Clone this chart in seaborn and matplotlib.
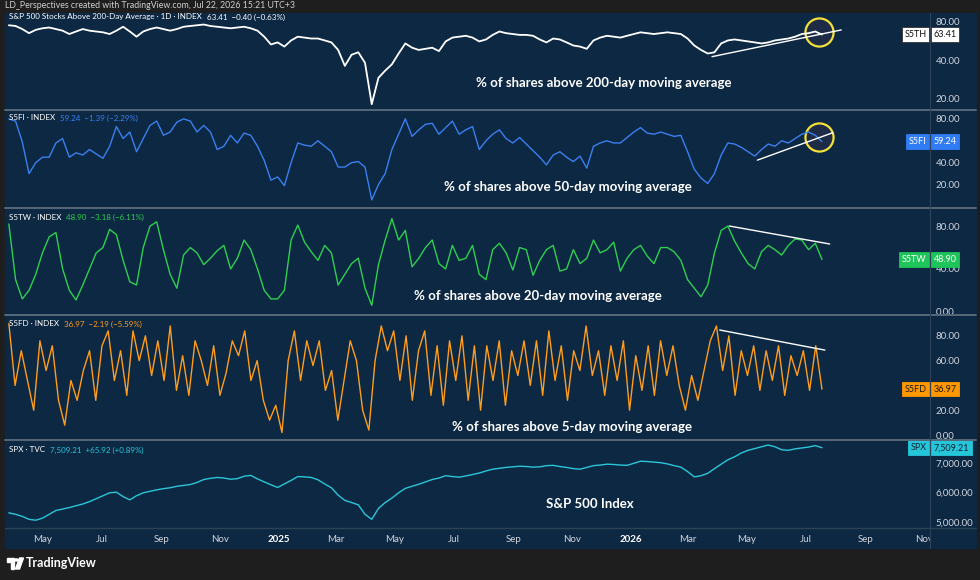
import numpy as np
import pandas as pd
import matplotlib
matplotlib.use('Agg')
import matplotlib.pyplot as plt
import matplotlib.ticker as mticker
import matplotlib.transforms as mtrans
from matplotlib.patches import Rectangle, Polygon, Circle
from matplotlib.lines import Line2D
import seaborn as sns

# ---- data (weekly-ish samples) ----
start, end = '2024-03-27', '2026-07-18'

s5th = [75, 74, 70, 65, 69, 71, 72, 70, 68, 64,
        67, 70, 68, 67, 66, 64, 68, 73, 67, 61,
        67, 70, 72, 70, 68, 70, 73, 74, 75, 76,
        74, 73, 72, 71, 72, 73, 71, 68, 61, 53,
        55, 51, 57, 61, 60, 59, 59, 57, 55, 48,
        36, 44, 46, 38, 18, 29, 33, 37, 45, 54,
        50, 48, 49, 50, 47, 56, 60, 61, 62, 60,
        56, 58, 63, 67, 65, 64, 63, 63, 62, 58,
        55, 59, 58, 55, 52, 51, 49, 57, 60, 62,
        61, 60, 62, 64, 66, 65, 64, 65, 66, 65,
        64, 59, 52, 48, 45, 46, 54, 57, 58, 57,
        56, 55, 54, 55, 57, 58, 59, 61, 64, 65,
        67, 63.41]

s5fi = [80, 78, 59, 30, 40, 45, 45, 58, 62, 45,
        49, 47, 52, 48, 44, 55, 73, 62, 68, 50,
        62, 74, 78, 65, 68, 77, 80, 78, 68, 74,
        68, 52, 55, 65, 58, 67, 65, 55, 42, 24,
        27, 19, 40, 58, 56, 55, 60, 55, 50, 36,
        36, 40, 41, 36, 6, 20, 30, 52, 66, 80,
        64, 70, 75, 76, 66, 72, 78, 66, 70, 73,
        52, 60, 66, 70, 62, 58, 63, 57, 51, 45,
        38, 47, 50, 45, 41, 46, 35, 55, 58, 60,
        58, 58, 63, 68, 72, 67, 66, 68, 66, 64,
        65, 50, 34, 26, 21, 30, 47, 58, 57, 54,
        50, 46, 52, 57, 55, 60, 58, 62, 66, 68,
        65, 59.24]

s5tw = [82, 30, 12, 20, 35, 55, 70, 74, 40, 20,
        11, 25, 40, 55, 60, 77, 72, 48, 28, 25,
        60, 80, 84, 58, 35, 22, 53, 60, 55, 44,
        50, 57, 62, 40, 50, 67, 58, 40, 20, 12,
        12, 20, 67, 81, 65, 56, 48, 62, 55, 25,
        35, 45, 50, 22, 6, 44, 67, 87, 67, 76,
        42, 50, 60, 67, 45, 40, 62, 48, 50, 62,
        35, 30, 58, 64, 55, 39, 60, 58, 34, 48,
        58, 62, 38, 40, 58, 45, 50, 67, 55, 58,
        65, 38, 50, 58, 62, 52, 45, 60, 60, 56,
        48, 30, 22, 14, 25, 55, 76, 80, 66, 55,
        45, 40, 56, 62, 58, 53, 62, 68, 67, 58,
        64, 48.90]

s5fd = [90, 40, 68, 44, 20, 76, 52, 72, 28, 8,
        44, 28, 52, 68, 28, 72, 84, 44, 68, 32,
        84, 60, 80, 48, 76, 44, 88, 36, 64, 32,
        76, 60, 40, 72, 32, 50, 76, 64, 84, 44,
        60, 28, 12, 24, 2, 60, 84, 44, 76, 56,
        76, 36, 52, 12, 44, 76, 60, 20, 4, 60,
        88, 68, 84, 44, 80, 28, 68, 84, 32, 72,
        24, 76, 44, 80, 28, 72, 20, 72, 44, 76,
        24, 68, 48, 76, 40, 76, 32, 84, 44, 72,
        28, 68, 52, 88, 48, 68, 32, 72, 44, 76,
        20, 64, 36, 72, 32, 76, 48, 72, 40, 20,
        48, 28, 52, 76, 88, 52, 80, 32, 68, 48,
        72, 36, 68, 44, 72, 32, 64, 48, 68, 36,
        72, 36.97]

spx = [5300, 5250, 5180, 5080, 5050, 5120, 5250, 5380, 5430, 5480,
       5540, 5600, 5680, 5780, 5880, 5980, 6000, 5850, 5740, 5880,
       5980, 6030, 6080, 6120, 6150, 6200, 6230, 6260, 6330, 6430,
       6470, 6500, 6480, 6440, 6460, 6540, 6570, 6450, 6350, 6250,
       6160, 6280, 6400, 6530, 6520, 6500, 6420, 6280, 6150, 5900,
       5720, 5650, 5570, 5250, 5080, 5450, 5650, 5800, 5980, 6130,
       6200, 6270, 6350, 6430, 6480, 6560, 6530, 6510, 6550, 6600,
       6650, 6720, 6780, 6810, 6840, 6860, 6880, 6870, 6850, 6860,
       6900, 6910, 6870, 6840, 6800, 6780, 6840, 6900, 6920, 6950,
       6940, 6920, 6910, 6980, 7050, 7040, 7020, 7000, 6960, 6900,
       6850, 6700, 6520, 6560, 6640, 6800, 6950, 7100, 7200, 7330,
       7420, 7480, 7540, 7600, 7540, 7440, 7420, 7470, 7500, 7530,
       7580, 7509.21]

tags = ['S5TH', 'S5FI', 'S5TW', 'S5FD', 'SPX']
last_vals = ['63.41', '59.24', '48.90', '36.97', '7,509.21']
headers = [('S&P 500 Stocks Above 200-Day Average · 1D · INDEX', '63.41  −0.40 (−0.63%)'),
           ('S5FI · INDEX', '59.24  −1.39 (−2.29%)'),
           ('S5TW · INDEX', '48.90  −3.18 (−6.11%)'),
           ('S5FD · INDEX', '36.97  −2.19 (−5.59%)'),
           ('SPX · TVC', '7,509.21  +65.92 (+0.89%)')]
notes = ['% of shares above 200-day moving average',
         '% of shares above 50-day moving average',
         '% of shares above 20-day moving average',
         '% of shares above 5-day moving average',
         'S&P 500 Index']

# user drawn trend lines (date, value) and highlight circles
trend_lines = {0: [('2026-03-26', 42.5), ('2026-08-07', 68.9)],
               1: [('2026-05-12', 42.3), ('2026-07-29', 67.3)],
               2: [('2026-04-13', 80.1), ('2026-07-26', 63.3)],
               3: [('2026-04-03', 84.7), ('2026-07-21', 68.5)]}
circles = {0: ('2026-07-15', 66.8), 1: ('2026-07-15', 63.7)}

# ---- style ----
navy = '#0c2843'
frame = '#1e1e1e'
txt = '#d1d4dc'
line_colors = ['#ffffff', '#3b7ff0', '#2fcf4f', '#ff9d1c', '#2bc6d9']
box_colors = ['#ffffff', '#2f7cf6', '#1fc45a', '#ff9800', '#26c6da']
box_text = ['#111111', '#ffffff', '#ffffff', '#1a1a1a', '#102030']

sns.set_theme(style='dark', rc={'axes.facecolor': navy, 'figure.facecolor': frame,
                                 'axes.edgecolor': navy, 'axes.grid': False})
plt.rcParams['font.family'] = ['Lato', 'DejaVu Sans']

fig = plt.figure(figsize=(9.8, 5.8), dpi=100)


def fx(px):
    return px / 980


def fy(py):
    return 1 - py / 580


fig.add_artist(Rectangle((fx(5), fy(548)), (976 - 5) / 980, (548 - 13) / 580,
                         transform=fig.transFigure, color=navy, zorder=-5))

bounds = [(13, 109), (111, 207), (209, 314), (316, 439), (441, 527)]
ylims = [(16.5, 93.6), (-0.5, 87.2), (-2.1, 96), (-3.2, 96), (4820, 7736)]
yticks = [[20, 40, 80], [20, 40, 80], [0, 40, 80], [0, 20, 60, 80], [5000, 6000, 7000]]
series = [s5th, s5fi, s5tw, s5fd, spx]
xmin, xmax = pd.Timestamp('2024-03-23'), pd.Timestamp('2026-11-07')

axes = []
for i, (top, bot) in enumerate(bounds):
    ax = fig.add_axes([fx(5), fy(bot), (930 - 5) / 980, (bot - top) / 580])
    vals = series[i]
    dates = pd.date_range(start, end, periods=len(vals))
    df = pd.DataFrame({'date': dates, 'value': vals})
    sns.lineplot(data=df, x='date', y='value', ax=ax, color=line_colors[i],
                 linewidth=1.3 if i == 0 else 1.0, zorder=3)
    if i == 0:
        ax.set_yscale('log')
        ax.yaxis.set_minor_locator(mticker.NullLocator())
    ax.set_xlim(xmin, xmax)
    ax.set_ylim(*ylims[i])
    ax.set_yticks(yticks[i])
    ax.yaxis.set_major_formatter(mticker.FuncFormatter(lambda v, p: f'{v:,.2f}'))
    ax.yaxis.tick_right()
    ax.tick_params(axis='y', length=0, pad=4, labelsize=7, labelcolor=txt)
    ax.tick_params(axis='x', length=0, bottom=False, labelbottom=False)
    ax.set_xlabel('')
    ax.set_ylabel('')
    for sp in ax.spines.values():
        sp.set_visible(False)
    axes.append(ax)

    # price tag on the right scale
    tr = mtrans.blended_transform_factory(ax.transAxes, ax.transData)
    yv = vals[-1]
    ec = '#333333' if i == 0 else box_colors[i]
    ax.annotate(tags[i], xy=(1, yv), xycoords=tr, xytext=(-2.6, 0), textcoords='offset points',
                ha='right', va='center', fontsize=6.5, color=box_text[i], zorder=10,
                annotation_clip=False,
                bbox=dict(boxstyle='square,pad=0.3', fc=box_colors[i], ec=ec, lw=0.6))
    ax.annotate(last_vals[i], xy=(1, yv), xycoords=tr, xytext=(2.6, 0), textcoords='offset points',
                ha='left', va='center', fontsize=6.5, color=box_text[i], zorder=10,
                annotation_clip=False,
                bbox=dict(boxstyle='square,pad=0.3', fc=box_colors[i], ec=ec, lw=0.6))

    if i in trend_lines:
        (d0, v0), (d1, v1) = trend_lines[i]
        ax.plot([pd.Timestamp(d0), pd.Timestamp(d1)], [v0, v1], color='white', lw=1.0, zorder=4)
    if i in circles:
        d, v = circles[i]
        ax.scatter([pd.Timestamp(d)], [v], s=410, facecolors='#1d2b47', edgecolors='#f3e03a',
                   linewidths=1.6, zorder=2)

# bottom time axis
ax = axes[-1]
ticks = pd.date_range('2024-05-01', '2026-11-01', freq='2MS')
labels = [str(t.year) if t.month == 1 else t.strftime('%b') for t in ticks]
ax.set_xticks(ticks)
ax.set_xticklabels(labels)
ax.tick_params(axis='x', labelbottom=True, length=0, pad=6, labelsize=7, labelcolor=txt)
for lab in ax.get_xticklabels():
    if lab.get_text().isdigit():
        lab.set_fontweight('bold')
        lab.set_color('white')

# cover the price-scale part of the time axis row
fig.add_artist(Rectangle((fx(930), fy(548)), (976 - 930) / 980, (548 - 528) / 580,
                         transform=fig.transFigure, color=navy, zorder=5))

# separators
for yy in [110, 208, 315, 440]:
    fig.add_artist(Line2D([fx(5), fx(976)], [fy(yy), fy(yy)], color='#56687a', lw=1.4, zorder=6))
fig.add_artist(Line2D([fx(5), fx(976)], [fy(528), fy(528)], color='#2c4257', lw=1.0, zorder=6))
fig.add_artist(Line2D([fx(930), fx(930)], [fy(13), fy(548)], color='#2f445a', lw=0.8, zorder=6))

# panel headers
renderer = fig.canvas.get_renderer()
head_y = [17, 118, 217, 324, 450]
for i, (name, rest) in enumerate(headers):
    t = fig.text(fx(9), fy(head_y[i]), name, color='white', fontsize=5.8, va='center', zorder=7)
    w = t.get_window_extent(renderer).width
    fig.text(fx(9 + w + 5), fy(head_y[i]), rest, color=line_colors[i], fontsize=5.8,
             va='center', zorder=7)

# big annotations
note_pos = [(604, 83), (568, 187), (538, 296), (572, 427), (590, 504)]
for (cx, cy), s in zip(note_pos, notes):
    fig.text(fx(cx), fy(cy), s, color='white', fontsize=9.5, fontweight='bold',
             ha='center', va='center', zorder=7)

# top line and footer
fig.text(fx(5), fy(6), 'LD_Perspectives created with TradingView.com, Jul 22, 2026 15:21 UTC+3',
         color='#cfcfcf', fontsize=6.3, va='center')
fig.add_artist(Polygon([(fx(7), fy(558)), (fx(14), fy(558)), (fx(14), fy(569)),
                        (fx(10.5), fy(569)), (fx(10.5), fy(562)), (fx(7), fy(562))],
                       closed=True, transform=fig.transFigure, color='white'))
fig.add_artist(Circle((fx(16.5), fy(560)), 1.8 / 980, transform=fig.transFigure, color='white'))
fig.add_artist(Polygon([(fx(15.5), fy(569)), (fx(19.5), fy(558)), (fx(23.5), fy(558)),
                        (fx(19.5), fy(569))], closed=True, transform=fig.transFigure, color='white'))
fig.text(fx(26), fy(563), 'TradingView', color='white', fontsize=9, fontweight='bold', va='center')

fig.savefig('out.png', dpi=100, facecolor=frame)
